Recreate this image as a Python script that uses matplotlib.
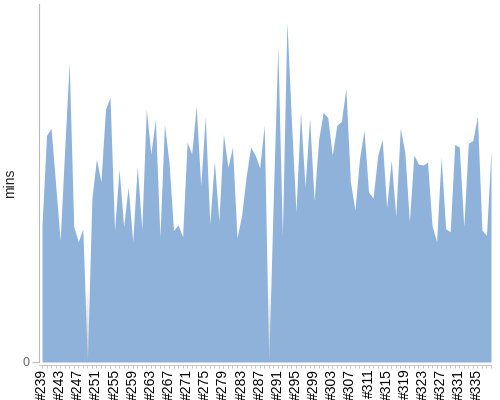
import matplotlib
matplotlib.use("Agg")
import matplotlib.pyplot as plt
import numpy as np

FILL = "#8FB2DB"
AXIS = "#BBBBBB"
TEXT = "#222222"
MUTED = "#666666"

builds = list(range(239, 339))
mins = [
    38.1, 63.3, 65.3, 49.7, 33.9, 59.4, 83.6, 37.8, 33.6, 37.2,
    0.0, 45.6, 56.7, 50.3, 70.6, 73.9, 36.7, 53.9, 37.8, 48.9,
    33.6, 54.7, 37.2, 70.6, 58.1, 67.8, 35.0, 66.4, 55.8, 36.7,
    38.3, 35.0, 61.4, 58.1, 71.4, 49.2, 68.6, 38.6, 56.1, 39.4,
    63.6, 54.4, 60.0, 34.7, 40.8, 51.7, 60.0, 57.8, 54.2, 66.1,
    0.0, 45.8, 88.1, 35.3, 95.0, 67.2, 41.9, 69.7, 48.9, 68.1,
    45.0, 62.2, 69.7, 68.3, 57.8, 66.1, 67.2, 76.4, 50.3, 42.5,
    56.7, 64.7, 47.5, 45.8, 57.5, 62.2, 43.1, 56.4, 40.8, 65.3,
    58.6, 39.2, 57.8, 55.3, 55.0, 55.8, 38.1, 33.6, 57.2, 37.2,
    36.4, 60.8, 60.0, 37.8, 61.1, 61.9, 68.6, 36.9, 35.3, 58.9,
]
tick_labels = [f"#{b}" for b in builds]

plt.rcParams["font.family"] = ["Liberation Sans", "DejaVu Sans"]

x = np.arange(len(builds))
y = np.array(mins)

fig = plt.figure(figsize=(5, 4), dpi=100)
ax = fig.add_axes([0.078, 0.095, 0.904, 0.895])

# faint grey streak (fading upward) where the series drops to zero
zero_idx = x[y == 0]
steps = 12
for k in range(steps):
    ax.vlines(zero_idx, k * 1.8, (k + 1) * 1.8, color="#BDBDBD",
              alpha=0.9 * (1 - k / steps), linewidth=1.8, zorder=1)
ax.fill_between(x, 0, y, color=FILL, linewidth=0, zorder=2)

ax.set_xlim(-0.66, len(builds) - 1)
ax.set_ylim(0, 100)

ax.set_xticks(x[::4])
ax.set_xticklabels(tick_labels[::4], fontsize=7, color=TEXT)
ax.set_xticks(x, minor=True)
ax.set_yticks([0])
ax.set_yticklabels(["0"], fontsize=9, color=MUTED)
ax.set_ylabel("mins", fontsize=10, color=TEXT, labelpad=4)

for s in ("top", "right"):
    ax.spines[s].set_visible(False)
ax.spines["left"].set_color(AXIS)
ax.spines["left"].set_linewidth(0.8)
ax.spines["bottom"].set_color(AXIS)
ax.spines["bottom"].set_linewidth(0.6)
ax.spines["bottom"].set_position(("outward", 2))
ax.tick_params(axis="x", which="both", length=1.8, width=0.6, color=AXIS, pad=1,
               labelrotation=90)
ax.tick_params(axis="y", length=5, width=0.8, color=AXIS, pad=2)

fig.savefig("out.png", dpi=100, facecolor="white")
